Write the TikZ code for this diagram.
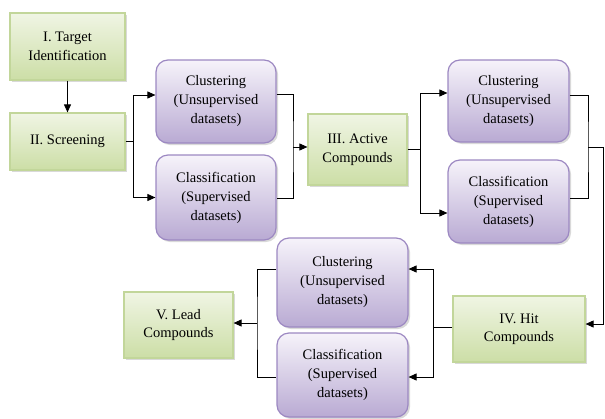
\documentclass[tikz,border=0pt]{standalone}
\usepackage{fontspec}
\setmainfont{Liberation Serif}
\usetikzlibrary{arrows.meta,shadows}

\definecolor{stagetop}{HTML}{F0F5E4}
\definecolor{stagebot}{HTML}{CCDEA6}
\definecolor{stageline}{HTML}{C2D69A}
\definecolor{modeltop}{HTML}{F6F3FA}
\definecolor{modelbot}{HTML}{B9AAD3}
\definecolor{modelline}{HTML}{9C88C2}

\begin{document}
\begin{tikzpicture}[
        x=1pt, y=-1pt, % pixel grid, origin top left
        stage/.style={draw=stageline, line width=1.2pt, top color=stagetop, bottom color=stagebot,
                align=center, inner sep=0pt, font=\fontsize{14.5}{18.5}\selectfont,
                drop shadow={shadow xshift=2pt, shadow yshift=-2pt, opacity=0.3}},
        model/.style={draw=modelline, line width=1.2pt, rounded corners=12pt, top color=modeltop,
                bottom color=modelbot, align=center, inner sep=0pt, font=\fontsize{14.5}{19}\selectfont,
                drop shadow={shadow xshift=2pt, shadow yshift=-2pt, opacity=0.3}},
        link/.style={draw, line width=0.9pt},
        arr/.style={link, -{Triangle[length=8pt, width=7pt]}},
    ]
    \useasboundingbox (0,0) rectangle (605,418);

    % stages
    \node[stage, minimum width=115pt, minimum height=67pt] (tid) at (67.5,46.5) {I. Target\\Identification};
    \node[stage, minimum width=115pt, minimum height=57pt] (scr) at (67.5,141.5) {II. Screening};
    \node[stage, minimum width=99pt, minimum height=71pt] (act) at (357.5,149.5) {III. Active\\Compounds};
    \node[stage, minimum width=132pt, minimum height=66pt] (hit) at (519,329) {IV. Hit\\Compounds};
    \node[stage, minimum width=109pt, minimum height=66pt] (lead) at (178.5,325) {V. Lead\\Compounds};

    % learning boxes
    \node[model, minimum width=120pt, minimum height=83pt] (clu1) at (216,101.5) {Clustering\\(Unsupervised\\datasets)};
    \node[model, minimum width=120pt, minimum height=85pt] (cla1) at (216,197.5) {Classification\\(Supervised\\datasets)};
    \node[model, minimum width=121pt, minimum height=82pt] (clu2) at (508.5,101) {Clustering\\(Unsupervised\\datasets)};
    \node[model, minimum width=121pt, minimum height=83pt] (cla2) at (508.5,201.5) {Classification\\(Supervised\\datasets)};
    \node[model, minimum width=131pt, minimum height=89pt] (clu3) at (342.5,282.5) {Clustering\\(Unsupervised\\datasets)};
    \node[model, minimum width=131pt, minimum height=84pt] (cla3) at (342.5,375) {Classification\\(Supervised\\datasets)};

    % junctions
    \coordinate (j1) at (133,141.5);
    \coordinate (j2) at (293,147);
    \coordinate (j3) at (420,149.5);
    \coordinate (j4) at (588,147);
    \coordinate (j5) at (603,147);
    \coordinate (j6) at (433,327);
    \coordinate (j7) at (257,323);

    \draw[arr] (tid) -- (scr);

    \draw[link] (scr.east) -- (j1);
    \draw[arr] (j1) |- ([yshift=6.5pt]clu1.west);
    \draw[arr] (j1) |- (cla1.west);
    \draw[link] ([yshift=7pt]clu1.east) -| (j2) |- ([yshift=-0.5pt]cla1.east);
    \draw[arr] (j2) -- (j2 -| act.west);

    \draw[link] (act.east) -- (j3);
    \draw[arr] (j3) |- ([yshift=8pt]clu2.west);
    \draw[arr] (j3) |- ([yshift=-11.5pt]clu2.west |- cla2.west);
    \draw[link] ([yshift=6pt]clu2.east) -| (j4) |- ([yshift=3.5pt]cla2.east);
    \draw[arr] (j4) -- (j5) |- ([yshift=5pt]hit.east);

    \draw[link] (j6 -| hit.west) -- (j6);
    \draw[arr] (j6) |- ([yshift=13.5pt]clu3.east);
    \draw[arr] (j6) |- ([yshift=-2pt]cla3.east);
    \draw[link] ([yshift=13.5pt]clu3.west) -| (j7) |- ([yshift=-2pt]cla3.west);
    \draw[arr] (j7) -- (j7 -| lead.east);
\end{tikzpicture}
\end{document}
